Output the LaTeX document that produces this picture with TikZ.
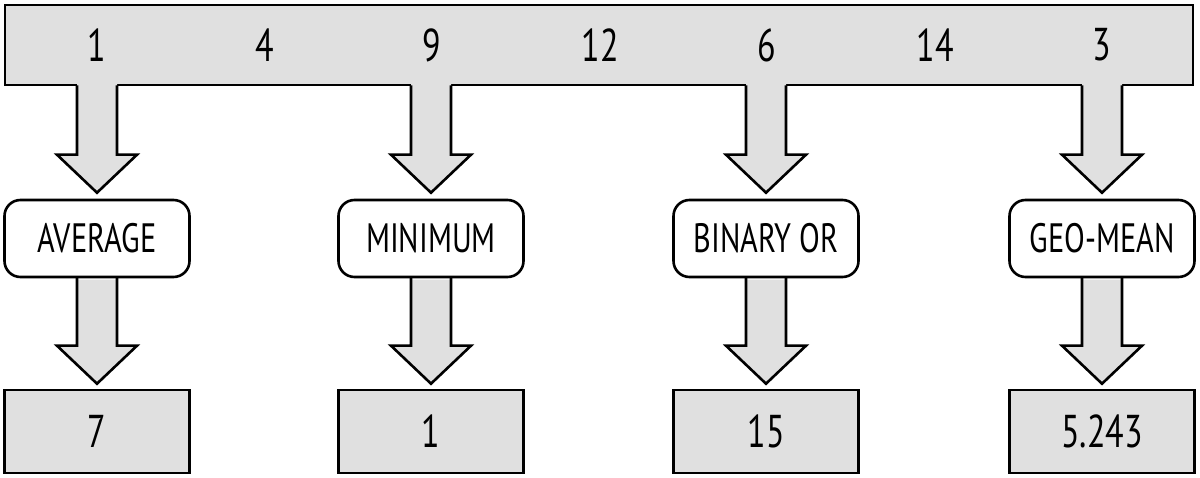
\documentclass[tikz,border=0pt]{standalone}
\usepackage{fontspec}
\setmainfont[FakeStretch=0.74]{PT Sans}
\usetikzlibrary{calc}
\definecolor{boxgray}{RGB}{224,224,224}
\newcommand{\blockarrow}[3]{%
  \fill[boxgray] let \p1=(#1), \p2=(#2) in
    (\x1-20pt,\y1+#3) -- (\x1-20pt,\y2+38pt) -- (\x1-40pt,\y2+38pt) -- (\x2,\y2)
    -- (\x1+40pt,\y2+38pt) -- (\x1+20pt,\y2+38pt) -- (\x1+20pt,\y1+#3) -- cycle;
  \draw[thickline] let \p1=(#1), \p2=(#2) in
    (\x1-20pt,\y1+1pt) -- (\x1-20pt,\y2+38pt) -- (\x1-40pt,\y2+38pt) -- (\x2,\y2)
    -- (\x1+40pt,\y2+38pt) -- (\x1+20pt,\y2+38pt) -- (\x1+20pt,\y1+1pt);}
\begin{document}
\begin{tikzpicture}[x=1pt,y=-1pt,
  thickline/.style={line width=2.6pt, line join=miter},
  opbox/.style={draw, thickline, fill=white, rounded corners=16pt, minimum width=185pt,
    minimum height=77pt, inner sep=0pt, font=\fontsize{41}{41}\selectfont},
  resbox/.style={draw, thickline, fill=boxgray, minimum width=185pt, minimum height=83pt,
    inner sep=0pt, font=\fontsize{46}{46}\selectfont},
  numlabel/.style={inner sep=0pt, font=\fontsize{46}{46}\selectfont}]
\useasboundingbox (0,0) rectangle (1200,478);
% top bar
\node[draw, thickline, fill=boxgray, minimum width=1188pt, minimum height=80pt, inner sep=0pt] (bar) at (599,45) {};
% operation boxes
\node[opbox] (op1) at (97,238.5) {AVERAGE};
\node[opbox] (op2) at (431,238.5) {MINIMUM};
\node[opbox] (op3) at (766,238.5) {BINARY OR};
\node[opbox] (op4) at (1102,238.5) {GEO-MEAN};
% result boxes
\node[resbox] (res1) at (97,431.5) {7};
\node[resbox] (res2) at (431,431.5) {1};
\node[resbox] (res3) at (766,431.5) {15};
\node[resbox] (res4) at (1102,431.5) {5.243};
% arrow end points
\foreach \i in {1,...,4}{
  \coordinate (s\i) at (bar.south -| op\i.north);
  \coordinate (t\i) at ($(op\i.north)+(0,-6)$);
  \coordinate (u\i) at ($(res\i.north)+(0,-5)$);
}
% top arrows
\foreach \i in {1,...,4}{ \blockarrow{s\i}{t\i}{4pt} }
% lower arrows
\foreach \i in {1,...,4}{ \blockarrow{op\i.south}{u\i}{-1.3pt} }
% numbers
\node[numlabel] (n1) at (97,45) {1};
\node[numlabel] (n2) at (265,45) {4};
\node[numlabel] (n3) at (432,45) {9};
\node[numlabel] (n4) at (600,45) {12};
\node[numlabel] (n5) at (767,45) {6};
\node[numlabel] (n6) at (935,45) {14};
\node[numlabel] (n7) at (1102,45) {3};
\end{tikzpicture}
\end{document}
